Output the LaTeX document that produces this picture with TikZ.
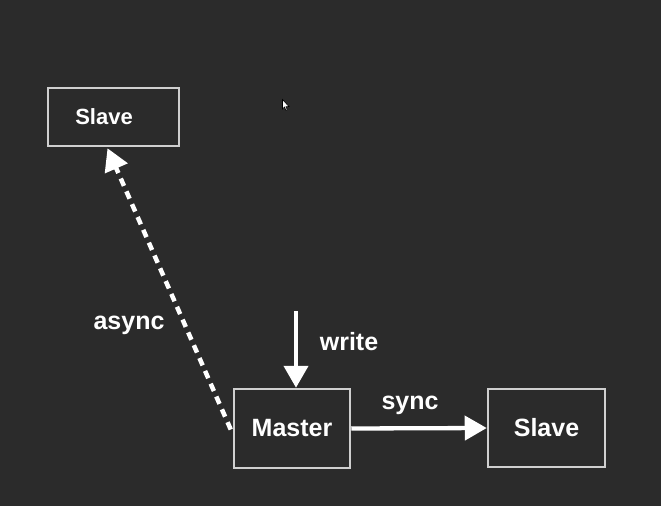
\documentclass[tikz,border=0pt]{standalone}
\usepackage{fontspec}
\setmainfont{Liberation Sans}
\usetikzlibrary{arrows.meta,calc}
\definecolor{bg}{HTML}{2B2B2B}
\definecolor{edge}{HTML}{CFCFCF}
\tikzset{
  box/.style={draw=edge, line width=2.5pt, fill=bg, inner sep=0pt, text=white, font=\bfseries\fontsize{25}{28}\selectfont},
  lbl/.style={text=white, font=\bfseries\fontsize{25}{28}\selectfont, inner sep=0pt},
  arr/.style={draw=white, line width=4.3pt, -{Triangle[length=22pt,width=24pt]}},
}
\begin{document}
\begin{tikzpicture}[x=1pt,y=-1pt]
\useasboundingbox (0,0) rectangle (661,506);
\fill[bg] (0,0) rectangle (661,506);
\node[box, minimum width=131pt, minimum height=58pt, font=\bfseries\fontsize{22}{24}\selectfont] (s1) at (113.5,117) {\hbox{Slave}\hbox to 19pt{}};
\node[box, minimum width=116pt, minimum height=79pt] (m) at (292,428.5) {Master};
\node[box, minimum width=117pt, minimum height=78pt] (s2) at (546.5,428) {Slave};
\coordinate (wtop) at (296,311);
\coordinate (wend) at ($(m.north)+(4,0)$);
\coordinate (aend) at ($(s1.south)+(-6,1)$);
\coordinate (astart) at ($(m.west)+(-2,1)$);
\draw[arr] (wtop) -- (wend);
\draw[arr] (m.east) -- (s2.west);
\draw[arr, line width=4.5pt, dash pattern=on 8pt off 6pt] (astart) -- (aend);
\node[lbl] (lw) at (349,342) {write};
\node[lbl] (ls) at (410,405) {sync};
\node[lbl] (la) at (129,325) {async};
% mouse cursor
\filldraw[fill=white, draw=black, line width=0.6pt] (282.5,99.5) -- (282.5,109) -- (284.5,107) -- (286,110.5) -- (287.3,110) -- (286,106.6) -- (289,106.6) -- cycle;
\end{tikzpicture}
\end{document}
